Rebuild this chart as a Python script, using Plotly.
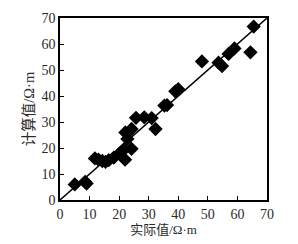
import plotly.graph_objects as go

actual = [5, 8.5, 9, 11.8, 13, 14.3, 15.4, 16.5, 18.2, 20.8, 21.6, 22, 24.2, 22.1, 24.2, 22.8,
          25.7, 28.5, 31, 32.3, 35.3, 36.2, 39, 40, 48, 53.6, 54.8, 57, 59, 64.4, 65.5]
calc = [6, 7, 6.3, 16, 15.5, 15, 14.7, 15.3, 16.3, 18.5, 19.5, 15.5, 19.7, 26, 27.3, 23.5,
        31.6, 31.8, 31.5, 27.3, 36.3, 36.5, 41.8, 42.6, 53.3, 52.8, 51.5, 56.2, 58.3, 56.8, 66.7]
line_x = [0, 70]
line_y = [0, 70]
ticks = [0, 10, 20, 30, 40, 50, 60, 70]

font = "Liberation Serif, Times New Roman, Noto Sans CJK SC"
txt = "#2a2a2a"

fig = go.Figure()
fig.add_trace(go.Scatter(x=line_x, y=line_y, mode="lines",
                         line=dict(color="black", width=1.5), showlegend=False))
fig.add_trace(go.Scatter(x=actual, y=calc, mode="markers",
                         marker=dict(symbol="diamond", size=11, color="black"),
                         showlegend=False))

axis_common = dict(range=[0, 70], tickvals=ticks, ticks="inside", ticklen=4,
                   tickwidth=1, tickcolor="black", showline=True, linecolor="black",
                   linewidth=1.5, mirror=True, showgrid=False, zeroline=False,
                   tickfont=dict(family=font, size=14, color=txt))
fig.update_xaxes(**axis_common, title=dict(text="实际值/Ω·m", standoff=2,
                 font=dict(family=font, size=13, color=txt)))
fig.update_yaxes(**axis_common, title=dict(text="计算值/Ω·m", standoff=3,
                 font=dict(family=font, size=14.5, color=txt)))
fig.update_layout(width=298, height=244, margin=dict(l=60, r=31, t=11, b=36),
                  plot_bgcolor="white", paper_bgcolor="white")
fig.write_html("out.html")
